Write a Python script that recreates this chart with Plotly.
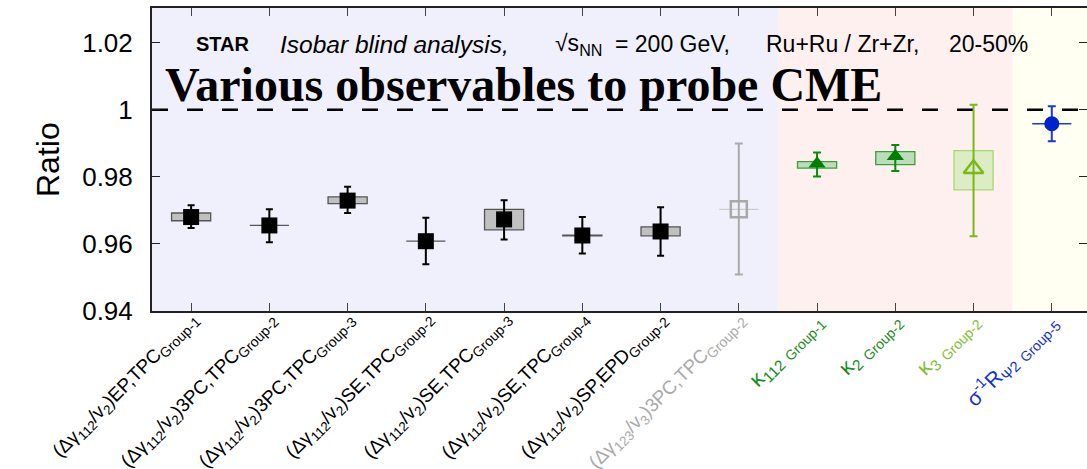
import plotly.graph_objects as go

# ---------------- data ----------------
G = "<sub><span style='font-size:14px'>%s</span></sub>"
labels = [
    "(Δγ<sub>112</sub>/v<sub>2</sub>)EP,TPC" + G % "Group-1",
    "(Δγ<sub>112</sub>/v<sub>2</sub>)3PC,TPC" + G % "Group-2",
    "(Δγ<sub>112</sub>/v<sub>2</sub>)3PC,TPC" + G % "Group-3",
    "(Δγ<sub>112</sub>/v<sub>2</sub>)SE,TPC" + G % "Group-2",
    "(Δγ<sub>112</sub>/v<sub>2</sub>)SE,TPC" + G % "Group-3",
    "(Δγ<sub>112</sub>/v<sub>2</sub>)SE,TPC" + G % "Group-4",
    "(Δγ<sub>112</sub>/v<sub>2</sub>)SP,EPD" + G % "Group-2",
    "(Δγ<sub>123</sub>/v<sub>3</sub>)3PC,TPC" + G % "Group-2",
    "κ<sub>112</sub> " + G % "Group-1",
    "κ<sub>2</sub> " + G % "Group-2",
    "κ<sub>3</sub> " + G % "Group-2",
    "σ<sup>-1</sup>R<sub>Ψ2</sub> " + G % "Group-5",
]
ratio = [0.9680, 0.9655, 0.9729, 0.9608, 0.9673, 0.9625, 0.9637, 0.9703, 0.9839, 0.9861, 0.9824, 0.9958]
stat_hi = [0.9715, 0.9703, 0.9770, 0.9678, 0.9730, 0.9680, 0.9709, 0.9899, 0.9872, 0.9895, 1.0015, 1.0010]
stat_lo = [0.9647, 0.9605, 0.9692, 0.9539, 0.9613, 0.9571, 0.9565, 0.9509, 0.9801, 0.9817, 0.9623, 0.9906]
syst_hi = [0.9692, 0.9655, 0.9740, 0.9608, 0.9703, 0.9626, 0.9651, 0.9703, 0.9845, 0.9875, 0.9878, 0.9958]
syst_lo = [0.9669, 0.9655, 0.9720, 0.9608, 0.9642, 0.9624, 0.9624, 0.9703, 0.9826, 0.9836, 0.9761, 0.9958]
y_tick_vals = [0.94, 0.96, 0.98, 1.00, 1.02]
y_tick_text = ["0.94", "0.96", "0.98", "1", "1.02"]

# ---------------- styles ----------------
STY = {
    "black": dict(color="#000000", symbol="square", size=16, lw=0, err="#000000",
                  cap=3.5, fill="#c0c0c0", edge="#555555", lab="#000000", fs=19),
    "grey": dict(color="#a8a8a8", symbol="square-open", size=16, lw=2.5, err="#aaaaaa",
                 cap=4, fill="#cccccc", edge="#cccccc", lab="#aaaaaa", fs=19),
    "green": dict(color="#008000", symbol="triangle-up", size=15, lw=0, err="#0a8a0a",
                  cap=4, fill="#bcdcbc", edge="#3aa03a", lab="#1a8c1a", fs=22),
    "lgreen": dict(color="#78b818", symbol="triangle-up-open", size=17, lw=2.5, err="#78b818",
                   cap=4, fill="#dcecc4", edge="#a8d870", lab="#80c030", fs=22),
    "blue": dict(color="#0022cc", symbol="circle", size=15, lw=0, err="#1a3ad8",
                 cap=4, fill="#1a3ad8", edge="#1a3ad8", lab="#1030e0", fs=21),
}
kind = ["black"] * 7 + ["grey", "green", "green", "lgreen", "blue"]

L, T, B = 152, 8, 311          # plot area pixel edges
PW, PH = 1087 - L, B - T
SANS = "Liberation Sans, Arial, sans-serif"


def px(xp):
    return (xp - L) / PW


def py(yp):
    return (B - yp) / PH


fig = go.Figure()
shapes = []
# background regions
shapes.append(dict(type="rect", xref="x", yref="paper", x0=-0.5, x1=7.5, y0=0, y1=1,
                   fillcolor="#f0f0fc", line_width=0, layer="below"))
shapes.append(dict(type="rect", xref="x", yref="paper", x0=7.5, x1=10.5, y0=0, y1=1,
                   fillcolor="#fff0f0", line_width=0, layer="below"))
shapes.append(dict(type="rect", xref="x", yref="paper", x0=10.5, x1=12, y0=0, y1=1,
                   fillcolor="#fffff2", line_width=0, layer="below"))
# dashed unity line
shapes.append(dict(type="line", xref="paper", yref="y", x0=0, x1=1, y0=1, y1=1,
                   line=dict(color="black", width=2.5, dash="16px,19px"), layer="below"))

for i in range(len(ratio)):
    s = STY[kind[i]]
    lo, hi = syst_lo[i], syst_hi[i]
    shapes.append(dict(type="rect", xref="x", yref="y", x0=i - 0.25, x1=i + 0.25, y0=lo, y1=hi,
                       fillcolor=s["fill"], line=dict(color=s["edge"], width=1.3), layer="below"))
    mk = dict(color=s["color"], symbol=s["symbol"], size=s["size"],
              line=dict(color=s["color"], width=s["lw"]))
    fig.add_trace(go.Scatter(
        x=[i], y=[ratio[i]], mode="markers", marker=mk, showlegend=False,
        error_y=dict(type="data", symmetric=False, array=[stat_hi[i] - ratio[i]],
                     arrayminus=[ratio[i] - stat_lo[i]], color=s["err"], thickness=2, width=s["cap"]),
    ))
    # rotated category label
    fig.add_annotation(text=labels[i], xref="x", yref="paper", x=i, y=py(305),
                       xanchor="right", yanchor="top", xshift=15, textangle=-45, showarrow=False,
                       font=dict(size=s["fs"], family=SANS, color=s["lab"]))

# invisible twin axis to draw the right-hand inner ticks without a frame line
fig.add_trace(go.Scatter(x=[None], y=[None], yaxis="y2", showlegend=False))

fig.update_layout(
    width=1087, height=469,
    margin=dict(l=L, r=0, t=T, b=469 - B, autoexpand=False),
    paper_bgcolor="white", plot_bgcolor="white",
    shapes=shapes,
    font=dict(family=SANS, color="black"),
    yaxis2=dict(overlaying="y", side="right", range=[0.94, 1.0303], tickmode="array",
                tickvals=y_tick_vals, showticklabels=False, ticks="inside", ticklen=8,
                tickcolor="#222", showline=False, showgrid=False, zeroline=False, automargin=False),
)
fig.update_xaxes(
    range=[-0.5, 11.45], tickmode="array", tickvals=list(range(len(ratio))), showticklabels=False,
    ticks="inside", ticklen=8, tickcolor="#444",
    showline=True, linecolor="#222", linewidth=2, mirror="ticks", showgrid=False, zeroline=False,
    automargin=False,
)
fig.update_layout(yaxis=dict(
    range=[0.94, 1.0303], tickmode="array", tickvals=y_tick_vals, ticktext=y_tick_text,
    tickfont=dict(size=26), ticks="inside", ticklen=8, tickcolor="#222", ticklabelstandoff=12,
    showline=True, linecolor="#222", linewidth=2, mirror=False, showgrid=False, zeroline=False,
    automargin=False,
))

fig.add_annotation(text="Ratio", textangle=-90, xref="paper", yref="paper",
                   x=px(28), y=py(159), showarrow=False,
                   font=dict(size=32, family=SANS))

# header line, segment by segment (centre x in pixels)
header = [
    ("<b>STAR</b>", 223, 20),
    ("<i>Isobar blind analysis,</i>", 394, 24.5),
    ("√s<sub>NN</sub>", 578, 23),
    ("= 200 GeV,", 672, 23),
    ("Ru+Ru / Zr+Zr,", 842, 23),
    ("20-50%", 988, 23),
]
for txt, xp, fs in header:
    fig.add_annotation(text=txt, xref="paper", yref="paper", x=px(xp), y=py(44),
                       xanchor="center", yanchor="middle", showarrow=False,
                       font=dict(size=fs, family=SANS))

fig.add_annotation(
    text="<b>Various observables to probe CME</b>",
    xref="paper", yref="paper", x=px(163), y=py(84),
    xanchor="left", yanchor="middle", showarrow=False,
    font=dict(size=48, family="Liberation Serif, Times New Roman, serif"))

fig.write_html("out.html")
